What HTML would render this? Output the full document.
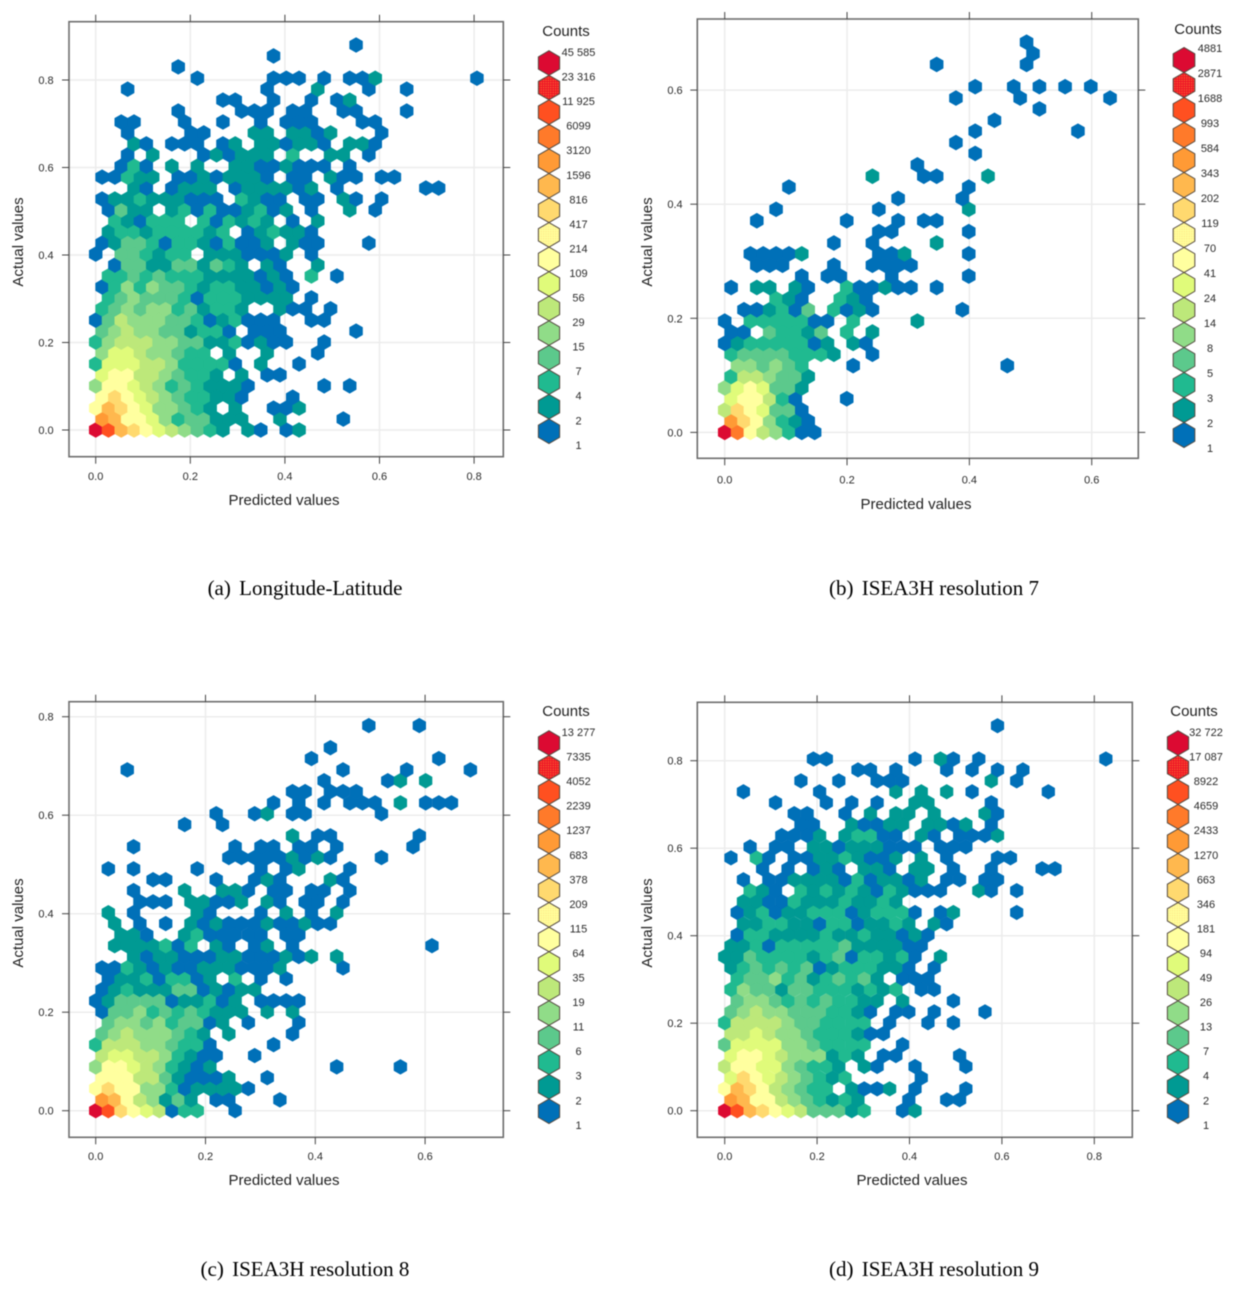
<!DOCTYPE html>
<html lang="en">
<head>
<meta charset="utf-8">
<title>Predicted vs actual hexbin plots</title>
<style>
html,body{margin:0;padding:0;background:#fff;}
#figure{display:block;width:1237px;height:1291px;filter:blur(0.45px);font-family:"Liberation Sans",sans-serif;}
.axis-title{font-size:15px;fill:#222;text-anchor:middle;}
.legend-title{font-size:15px;fill:#222;text-anchor:middle;}
.tick-label{font-size:11px;fill:#2a2a2a;text-anchor:middle;}
.legend-label{font-size:11px;fill:#2a2a2a;text-anchor:middle;}
.caption{font-family:"Liberation Serif",serif;font-size:21px;fill:#000;text-anchor:middle;}
</style>
</head>
<body>
<svg id="figure" xmlns="http://www.w3.org/2000/svg" width="1237" height="1291" viewBox="0 0 1237 1291">
  <defs>
    <pattern id="dots-red" width="2.4" height="2.4" patternUnits="userSpaceOnUse"><rect width="2.4" height="2.4" fill="#ee1428"/><circle cx="1.2" cy="1.2" r="0.55" fill="#ff9a30"/></pattern>
    <pattern id="dots-yellow" width="2.4" height="2.4" patternUnits="userSpaceOnUse"><rect width="2.4" height="2.4" fill="#ffff9c"/><circle cx="1.2" cy="1.2" r="0.6" fill="#ffdf80"/></pattern>
  </defs>
  <text class="axis-title" x="284" y="505">Predicted values</text>
  <text class="axis-title" transform="translate(23 242) rotate(-90)">Actual values</text>
  <text class="legend-title" x="566" y="36">Counts</text>
  <text class="caption" x="305" y="595">(a)<tspan dx="3"> Longitude-Latitude</tspan></text>

  <text class="axis-title" x="916" y="509">Predicted values</text>
  <text class="axis-title" transform="translate(652 242) rotate(-90)">Actual values</text>
  <text class="legend-title" x="1198" y="34">Counts</text>
  <text class="caption" x="934" y="595">(b)<tspan dx="3"> ISEA3H resolution 7</tspan></text>

  <text class="axis-title" x="284" y="1185">Predicted values</text>
  <text class="axis-title" transform="translate(23 923) rotate(-90)">Actual values</text>
  <text class="legend-title" x="566" y="716">Counts</text>
  <text class="caption" x="305" y="1276">(c)<tspan dx="3"> ISEA3H resolution 8</tspan></text>

  <text class="axis-title" x="912" y="1185">Predicted values</text>
  <text class="axis-title" transform="translate(652 923) rotate(-90)">Actual values</text>
  <text class="legend-title" x="1194" y="716">Counts</text>
  <text class="caption" x="934" y="1276">(d)<tspan dx="3"> ISEA3H resolution 9</tspan></text>
</svg>
<script>
// Panel (a) Longitude-Latitude
const panelAPredictedBins = [0,.027,.054,.081,.107,.134,.161,.188,.215,.242,.269,.295,.322,.349,.376,.403,.43,.456,.483,.51,.537,.564,.591,.618,.644,.671,.698,.725,.752,.779,.806];
const panelAActualBins = [0,.025,.05,.075,.101,.126,.151,.176,.201,.226,.251,.277,.302,.327,.352,.377,.402,.427,.453,.478,.503,.528,.553,.578,.603,.629,.654,.679,.704,.729,.754,.779,.804,.83,.855,.88];
const panelACountBands = [
[16,14,11,10,8,7,6,5,4,3,2,0,2,1,0,1,2],
[12,11,8,8,7,5,3,4,4,2,2,2,0,0,2,0,0,0,0,1],
[8,11,10,8,7,5,5,4,3,2,0,2,0,0,1,1,2],
[8,10,8,7,6,5,4,3,3,2,2,1,0,0,0,1],
[5,8,8,7,6,5,3,4,3,2,2,2,1,0,0,0,0,0,1,0,1],
[7,8,8,6,6,5,4,3,3,2,0,2,0,1,1],
[3,7,7,7,6,6,5,3,3,3,3,1,0,2,0,0,1],
[5,7,7,6,5,5,4,3,3,0,2,0,0,2,0,0,0,1],
[3,5,6,6,6,5,5,4,4,2,2,3,1,2,1,1,0,0,1],
[4,5,6,5,5,4,4,2,3,3,1,0,1,1,1,0,0,0,0,0,1],
[1,4,6,5,5,5,4,4,3,1,2,3,1,1,1,0,0,1,1],
[3,4,5,4,5,5,3,4,2,3,3,2,0,0,2,1,1,0,1],
[0,3,4,5,4,4,4,3,1,3,3,3,2,2,2,2,0,1],
[1,3,5,3,5,4,4,3,2,3,3,2,2,1,2,1],
[0,3,3,4,3,4,3,3,3,2,2,2,2,1,2,1,0,3,0,1],
[0,1,4,4,2,2,4,4,2,4,3,2,0,2,1,0,0,2],
[1,0,4,4,3,2,3,3,0,2,2,2,1,1,1,2,0,1],
[1,2,4,4,3,1,3,3,2,1,3,1,1,2,0,2,1,1,0,0,0,1],
[0,2,3,3,2,3,3,3,3,2,3,0,1,2,3,2,2,1],
[0,3,2,1,3,3,3,0,3,1,3,2,3,2,0,1,0,2],
[0,1,4,2,2,0,2,3,1,3,1,1,2,3,1,2,0,1,0,0,2,0,1],
[1,2,2,3,2,2,2,1,1,1,0,3,2,1,1,0,1,1,0,2,1,0,1],
[0,0,0,2,1,0,1,2,2,2,0,1,2,2,2,2,1,2,0,1,0,0,0,0,0,0,1,1],
[1,1,3,2,2,0,1,1,2,1,2,2,2,1,0,1,1,0,2,1,1,0,1,1],
[0,0,1,3,1,0,2,0,2,0,0,2,2,1,1,2,1,1,1,0,1],
[0,0,1,0,2,0,0,0,1,2,1,2,2,2,0,3,0,0,2,2,0,1],
[0,0,0,2,1,0,1,1,1,0,1,2,0,2,2,1,2,2,1,0,2,2,1],
[0,0,1,0,0,0,0,1,1,0,0,0,2,2,0,2,2,1,2,0,0,0,1],
[0,0,1,1,0,0,0,1,0,0,1,0,0,1,0,1,1,1,0,0,0,1,1],
[0,0,0,0,0,0,1,0,0,0,0,1,1,1,0,1,1,0,0,1,1,0,0,0,1],
[0,0,0,0,0,0,0,0,0,0,1,1,0,0,1,0,0,1,0,1,2],
[0,0,1,0,0,0,0,0,0,0,0,0,0,1,0,0,0,2,0,0,0,1,0,0,1],
[0,0,0,0,0,0,0,0,1,0,0,0,0,0,1,1,1,0,1,0,1,1,2,0,0,0,0,0,0,0,1],
[0,0,0,0,0,0,1],
[0,0,0,0,0,0,0,0,0,0,0,0,0,0,1],
[0,0,0,0,0,0,0,0,0,0,0,0,0,0,0,0,0,0,0,0,1]
];
const panelAXTicks = [0,0.2,0.4,0.6,0.8];
const panelAYTicks = [0,0.2,0.4,0.6,0.8];
const panelALegendLabels = ["45 585","23 316","11 925","6099","3120","1596","816","417","214","109","56","29","15","7","4","2","1"];

// Panel (b) ISEA3H resolution 7
const panelBPredictedBins = [0,.021,.042,.063,.084,.105,.126,.147,.168,.189,.21,.231,.252,.273,.294,.315,.336,.357,.378,.399,.42,.441,.462,.483,.504,.525,.546,.567,.588,.609,.63];
const panelBActualBins = [0,.02,.039,.059,.078,.098,.117,.137,.156,.176,.195,.215,.234,.254,.274,.293,.313,.332,.352,.371,.391,.41,.43,.449,.469,.489,.508,.528,.547,.567,.586,.606,.625,.645,.664,.684];
const panelBCountBands = [
[16,13,8,6,5,3,1,1],
[12,10,8,5,3,2,1],
[6,10,8,7,4,4,1],
[7,8,8,6,3,1,0,0,0,1],
[5,7,8,7,4,4,2],
[3,6,6,5,4,4,2],
[0,5,5,4,5,4,3,0,0,0,1,0,0,0,0,0,0,0,0,0,0,0,1],
[3,4,4,4,4,3,3,3,2,0,0,1],
[1,2,3,3,3,3,3,1,2,0,2,1],
[1,1,0,4,3,3,2,4,0,3,0,2],
[1,0,3,3,3,3,3,1,1,0,3,0,0,0,0,2],
[0,1,1,2,3,1,4,0,3,1,2,1,0,0,0,0,0,0,1],
[0,0,0,0,3,2,1,0,0,3,2,1],
[1,0,2,2,0,2,1,0,0,3,1,1,2,1,1,0,1],
[0,0,0,0,0,0,1,0,1,1,0,0,0,1,0,0,0,0,0,1],
[0,0,1,1,1,0,0,0,1,0,0,1,1,1,1],
[0,0,1,1,1,1,2,0,0,0,0,0,1,1,2,0,0,0,0,1],
[0,0,0,0,0,0,0,0,1,0,0,1,0,0,0,0,2],
[0,0,0,0,0,0,0,0,0,0,0,0,1,1,0,0,0,0,0,1],
[0,0,1,0,0,0,0,0,0,1,0,0,0,1,0,1,1],
[0,0,0,0,1,0,0,0,0,0,0,0,1,0,0,0,0,0,0,2],
[0,0,0,0,0,0,0,0,0,0,0,0,0,1,0,0,0,0,1],
[0,0,0,0,0,1,0,0,0,0,0,0,0,0,0,0,0,0,0,1],
[0,0,0,0,0,0,0,0,0,0,0,2,0,0,0,1,1,0,0,0,2],
[0,0,0,0,0,0,0,0,0,0,0,0,0,0,0,1],
[0,0,0,0,0,0,0,0,0,0,0,0,0,0,0,0,0,0,0,1],
[0,0,0,0,0,0,0,0,0,0,0,0,0,0,0,0,0,0,1],
[0,0,0,0,0,0,0,0,0,0,0,0,0,0,0,0,0,0,0,1,0,0,0,0,0,0,0,1],
[0,0,0,0,0,0,0,0,0,0,0,0,0,0,0,0,0,0,0,0,0,1],
[0,0,0,0,0,0,0,0,0,0,0,0,0,0,0,0,0,0,0,0,0,0,0,0,1],
[0,0,0,0,0,0,0,0,0,0,0,0,0,0,0,0,0,0,1,0,0,0,0,1,0,0,0,0,0,0,1],
[0,0,0,0,0,0,0,0,0,0,0,0,0,0,0,0,0,0,0,1,0,0,1,0,1,0,1,0,1],
[],
[0,0,0,0,0,0,0,0,0,0,0,0,0,0,0,0,1,0,0,0,0,0,0,1],
[0,0,0,0,0,0,0,0,0,0,0,0,0,0,0,0,0,0,0,0,0,0,0,0,1],
[0,0,0,0,0,0,0,0,0,0,0,0,0,0,0,0,0,0,0,0,0,0,0,1]
];
const panelBXTicks = [0,0.2,0.4,0.6];
const panelBYTicks = [0,0.2,0.4,0.6];
const panelBLegendLabels = ["4881","2871","1688","993","584","343","202","119","70","41","24","14","8","5","3","2","1"];

// Panel (c) ISEA3H resolution 8
const panelCPredictedBins = [0,.023,.046,.069,.093,.116,.139,.162,.185,.208,.231,.254,.278,.301,.324,.347,.37,.393,.416,.439,.463,.486,.509,.532,.555,.578,.601,.625,.648,.671,.694];
const panelCActualBins = [0,.022,.045,.067,.089,.112,.134,.156,.179,.201,.223,.246,.268,.29,.313,.335,.357,.38,.402,.424,.447,.469,.491,.514,.536,.558,.581,.603,.625,.648,.67,.692,.715,.737,.76,.782];
const panelCCountBands = [
[16,14,10,8,7,6,1,3,3,0,0,1],
[12,11,8,6,5,2,4,2,0,1,1,0,0,0,1],
[8,10,8,8,5,5,3,1,2,2,2,2,1],
[8,8,8,6,6,4,2,1,1,1,2,0,0,1],
[5,8,8,7,6,5,3,2,1,2,0,0,0,0,0,0,0,0,0,1,0,0,0,0,1],
[6,7,7,6,6,5,3,2,1,1,0,0,1],
[3,6,6,6,5,5,4,3,3,1,0,0,0,0,1],
[4,5,6,5,5,5,4,3,2,0,2,0,0,0,0,1],
[0,4,5,5,4,5,3,4,4,1,2,0,1,0,0,0,1],
[1,4,4,5,3,4,3,4,3,2,2,2,0,2,0,2],
[1,2,4,4,4,4,1,2,2,3,1,2,0,1,1,1,1],
[1,2,3,2,2,2,4,4,1,2,1,2,2],
[0,1,2,2,3,1,3,3,1,2,0,3,0,1,0,1],
[1,1,3,2,1,2,1,1,2,2,2,1,1,1,2,0,0,0,0,1],
[0,0,0,2,1,2,2,1,1,1,2,2,1,1,1,2,1,2,0,2],
[0,2,2,2,2,3,1,3,0,2,1,0,1,2,0,1,0,0,0,0,0,0,0,0,0,0,1],
[0,0,2,2,1,0,0,2,3,1,1,1,1,1,0,1,1],
[0,2,0,1,0,1,0,2,1,2,1,1,1,2,1,1,2,1,1],
[0,2,0,1,0,0,0,0,2,1,0,0,0,1,0,2,0,1,0,2],
[0,0,0,1,1,1,0,2,2,1,1,2,0,2,1,0,1,1,0,1],
[0,0,0,1,0,0,0,2,0,0,2,2,1,0,1,1,0,1,1,0,1],
[0,0,0,0,1,1,0,0,0,1,0,0,1,2,1,0,0,0,2,1],
[0,1,0,1,0,0,0,0,1,0,0,0,0,1,0,1,2,0,0,0,1],
[0,0,0,0,0,0,0,0,0,0,1,1,1,1,1,2,1,2,1,0,0,0,1],
[0,0,0,1,0,0,0,0,0,0,0,1,0,1,1,0,1,1,0,1,0,0,0,0,0,1],
[0,0,0,0,0,0,0,0,0,0,0,0,0,0,0,2,0,1,1,0,0,0,0,0,0,1],
[0,0,0,0,0,0,0,1,0,0,1],
[0,0,0,0,0,0,0,0,0,1,0,0,1,2,0,1,1,0,0,0,0,0,1],
[0,0,0,0,0,0,0,0,0,0,0,0,0,0,1,0,1,0,1,0,1,1,1,0,2,0,1,1,1],
[0,0,0,0,0,0,0,0,0,0,0,0,0,0,0,1,1,0,1,1,1],
[0,0,0,0,0,0,0,0,0,0,0,0,0,0,0,0,0,0,1,0,0,0,0,1,2,0,2],
[0,0,1,0,0,0,0,0,0,0,0,0,0,0,0,0,0,0,0,1,0,0,0,0,1,0,0,0,0,1],
[0,0,0,0,0,0,0,0,0,0,0,0,0,0,0,0,0,1,0,0,0,0,0,0,0,0,0,1],
[0,0,0,0,0,0,0,0,0,0,0,0,0,0,0,0,0,0,1],
[],
[0,0,0,0,0,0,0,0,0,0,0,0,0,0,0,0,0,0,0,0,0,1,0,0,0,1]
];
const panelCXTicks = [0,0.2,0.4,0.6];
const panelCYTicks = [0,0.2,0.4,0.6,0.8];
const panelCLegendLabels = ["13 277","7335","4052","2239","1237","683","378","209","115","64","35","19","11","6","3","2","1"];

// Panel (d) ISEA3H resolution 9
const panelDPredictedBins = [0,.027,.055,.082,.11,.137,.165,.192,.22,.247,.275,.302,.33,.357,.385,.412,.44,.467,.495,.522,.55,.577,.605,.632,.66,.687,.715,.742,.77,.797,.825];
const panelDActualBins = [0,.025,.05,.075,.101,.126,.151,.176,.201,.226,.251,.277,.302,.327,.352,.377,.402,.427,.453,.478,.503,.528,.553,.578,.603,.629,.654,.679,.704,.729,.754,.779,.804,.83,.855,.88];
const panelDCountBands = [
[16,14,11,10,8,7,6,4,4,4,2,3,0,0,1,2],
[12,11,8,8,6,5,4,3,2,3,2,0,0,0,1,0,0,1,1],
[8,11,10,8,6,5,4,3,3,0,2,1,1,2,0,1,0,0,0,1],
[7,10,8,7,6,5,4,3,2,3,0,0,0,0,0,1],
[6,8,8,7,7,5,4,3,3,2,0,2,1,0,0,1,0,0,0,1],
[7,8,8,7,6,5,5,5,2,3,2,0,1,1,0,0,0,0,1],
[4,7,7,7,7,5,5,4,3,3,3,3,0,0,1],
[6,6,7,6,5,5,4,3,3,3,2,1,1],
[3,6,6,6,6,5,4,4,3,3,3,3,0,1,0,0,1,0,1],
[4,5,6,5,5,4,4,4,3,3,2,1,0,1,1,0,1,0,0,0,1],
[0,4,5,5,4,3,4,3,4,3,3,2,2,0,2,0,0,0,1],
[3,5,4,4,2,4,4,3,3,3,2,3,2,3,0,1,1],
[0,3,4,4,5,3,4,2,3,4,3,4,2,0,1,1,1],
[2,3,4,3,4,3,4,1,2,3,3,3,2,2,1,0,1],
[2,2,4,3,3,3,3,2,3,4,1,3,3,2,3,1,0,2],
[2,2,3,1,3,3,3,3,3,4,2,2,2,2,1,1],
[0,1,3,3,2,2,2,2,3,2,2,3,2,2,1,2,1],
[0,2,2,3,3,2,2,1,3,3,1,2,2,3,2,0,2,1],
[0,1,2,3,1,2,2,3,3,3,1,2,3,3,3,1,0,1,2,0,0,0,0,1],
[0,2,2,1,1,3,2,2,2,3,2,2,3,2],
[0,0,3,2,1,0,3,2,3,2,3,2,1,3,2,1,1,1,0,0,2,1,0,1],
[0,1,0,1,1,2,2,2,2,1,3,1,2,2,1,2,0,1,1,0,1,1],
[0,0,0,1,0,1,0,1,2,1,0,2,2,1,0,2,2,0,1,0,0,1,0,0,0,1,1],
[1,0,3,1,0,1,1,2,2,3,2,1,1,2,0,2,0,1,0,0,0,1,1],
[0,0,1,0,1,1,0,2,2,1,2,2,2,1,1,1,0,1,1,1],
[0,0,0,0,1,1,1,2,0,2,3,3,1,1,0,2,1,0,1,1,1,2],
[0,0,0,0,0,0,1,1,0,0,2,1,1,2,2,0,2,2,1,2,0,1],
[0,0,0,0,0,1,1,0,0,1,0,2,0,2,2,0,2,0,0,0,2,1],
[0,0,0,0,1,0,0,0,1,0,1,0,1,0,0,2,2,0,0,0,0,1],
[0,1,0,0,0,0,0,1,0,0,0,0,0,2,0,2,0,2,0,1,0,0,0,0,0,1],
[0,0,0,0,0,0,1,0,0,1,0,0,1,1,1,0,0,0,0,0,0,2,0,1],
[0,0,0,0,0,0,0,0,0,0,1,1,0,1,0,0,0,1,0,1,0,1,0,1],
[0,0,0,0,0,0,0,1,1,0,0,0,0,0,0,1,0,2,1,0,1,0,0,0,0,0,0,0,0,0,1],
[],
[],
[0,0,0,0,0,0,0,0,0,0,0,0,0,0,0,0,0,0,0,0,0,1]
];
const panelDXTicks = [0,0.2,0.4,0.6,0.8];
const panelDYTicks = [0,0.2,0.4,0.6,0.8];
const panelDLegendLabels = ["32 722","17 087","8922","4659","2433","1270","663","346","181","94","49","26","13","7","4","2","1"];

// Colour of count band 1 (lowest) to band 16 (highest)
const bandColors = ["#0070b8","#009a93","#20ba90","#5cc98c","#90dc88","#bde87a","#e0fb7a","#ffff9f","url(#dots-yellow)","#ffd96f","#ffb84e","#ff9a35","#ff7a2a","#ff5020","url(#dots-red)","#dc0a32"];

const panels = [
  {id:"a",predicted:panelAPredictedBins,actual:panelAActualBins,bands:panelACountBands,xTicks:panelAXTicks,yTicks:panelAYTicks,legend:panelALegendLabels,
   left:69,top:21.7,right:503.3,bottom:456.7,x0:95.7,kx:473,y0:430,ky:437.5,xLabelY:480,yLabelX:46,legendHexX:549,legendHexTop:63,legendStep:24.55,legendLabelX:578.5,legendLabelTop:52},
  {id:"b",predicted:panelBPredictedBins,actual:panelBActualBins,bands:panelBCountBands,xTicks:panelBXTicks,yTicks:panelBYTicks,legend:panelBLegendLabels,
   left:697.3,top:19,right:1138.3,bottom:458.3,x0:724.7,kx:611.7,y0:432.4,ky:570.5,xLabelY:483.5,yLabelX:675,legendHexX:1184,legendHexTop:60,legendStep:25,legendLabelX:1210,legendLabelTop:48},
  {id:"c",predicted:panelCPredictedBins,actual:panelCActualBins,bands:panelCCountBands,xTicks:panelCXTicks,yTicks:panelCYTicks,legend:panelCLegendLabels,
   left:69,top:701.7,right:503.3,bottom:1137.3,x0:95.7,kx:549,y0:1110.7,ky:492.5,xLabelY:1160,yLabelX:46,legendHexX:549,legendHexTop:743,legendStep:24.55,legendLabelX:578.5,legendLabelTop:732},
  {id:"d",predicted:panelDPredictedBins,actual:panelDActualBins,bands:panelDCountBands,xTicks:panelDXTicks,yTicks:panelDYTicks,legend:panelDLegendLabels,
   left:697.3,top:702.3,right:1132.3,bottom:1137.3,x0:724.7,kx:462,y0:1110.7,ky:437.5,xLabelY:1160,yLabelX:675,legendHexX:1178,legendHexTop:743,legendStep:24.55,legendLabelX:1206,legendLabelTop:732}
];

const svg = document.getElementById("figure");
const NS = "http://www.w3.org/2000/svg";

function make(tag, attrs, parent) {
  const el = document.createElementNS(NS, tag);
  for (const key in attrs) el.setAttribute(key, attrs[key]);
  parent.appendChild(el);
  return el;
}
function hexPoints(cx, cy, radius) {
  const pts = [];
  for (let k = 0; k < 6; k++) {
    const angle = Math.PI / 2 + k * Math.PI / 3;
    pts.push((cx + radius * Math.cos(angle)).toFixed(2) + "," + (cy - radius * Math.sin(angle)).toFixed(2));
  }
  return pts.join(" ");
}
function bandColor(band) {
  return bandColors[Math.max(1, Math.min(16, band)) - 1];
}

panels.forEach(function (p) {
  const xScale = function (v) { return p.x0 + v * p.kx; };
  const yScale = function (v) { return p.y0 - v * p.ky; };

  const group = make("g", {}, svg);
  
  

  // grid lines
  p.xTicks.forEach(function (t) {
    const line = make("line", {x1:xScale(t),x2:xScale(t),y1:p.top,y2:p.bottom,stroke:"#ececec","stroke-width":1.5}, group);
    
    
  });
  p.yTicks.forEach(function (t) {
    const line = make("line", {x1:p.left,x2:p.right,y1:yScale(t),y2:yScale(t),stroke:"#ececec","stroke-width":1.5}, group);
    
    
  });

  // hexagonal bins
  const half = (xScale(p.predicted[1]) - xScale(p.predicted[0])) / 2;
  const radius = 2 * half / Math.sqrt(3);
  p.bands.forEach(function (row, r) {
    row.forEach(function (band, c) {
      if (!band) return;
      const cx = xScale(p.predicted[c]) + (r % 2 ? half : 0);
      const cy = yScale(p.actual[r]);
      const fill = bandColor(band);
      const hex = make("polygon", {points:hexPoints(cx, cy, radius),fill:fill}, group);
      if (fill.indexOf("url") !== 0) {
        hex.setAttribute("stroke", fill);
        hex.setAttribute("stroke-width", "0.7");
        hex.setAttribute("stroke-linejoin", "round");
      }
      
      
    });
  });

  // frame
  const frame = make("rect", {x:p.left,y:p.top,width:p.right-p.left,height:p.bottom-p.top,fill:"none",stroke:"#6e6e6e","stroke-width":1.6}, group);
  
  

  // x ticks and labels
  p.xTicks.forEach(function (t) {
    const x = xScale(t);
    const topTick = make("line", {x1:x,x2:x,y1:p.top-7,y2:p.top,stroke:"#444","stroke-width":1}, group);
    
    
    const bottomTick = make("line", {x1:x,x2:x,y1:p.bottom,y2:p.bottom+7,stroke:"#444","stroke-width":1}, group);
    
    
    const label = make("text", {"class":"tick-label",x:x,y:p.xLabelY}, group);
    label.textContent = t.toFixed(1);
    
    
  });

  // y ticks and labels
  p.yTicks.forEach(function (t) {
    const y = yScale(t);
    const leftTick = make("line", {x1:p.left-7,x2:p.left,y1:y,y2:y,stroke:"#444","stroke-width":1}, group);
    
    
    const rightTick = make("line", {x1:p.right,x2:p.right+7,y1:y,y2:y,stroke:"#444","stroke-width":1}, group);
    
    
    const label = make("text", {"class":"tick-label",x:p.yLabelX,y:y+4}, group);
    label.textContent = t.toFixed(1);
    
    
  });

  // legend: 16 swatches between 17 boundary labels
  const legendRadius = p.legendStep / 2;
  for (let i = 0; i < 16; i++) {
    const swatch = make("polygon", {points:hexPoints(p.legendHexX, p.legendHexTop + i * p.legendStep, legendRadius),fill:bandColor(16 - i),stroke:"#544a40","stroke-width":1}, group);
    
    
  }
  p.legend.forEach(function (text, i) {
    const label = make("text", {"class":"legend-label",x:p.legendLabelX,y:p.legendLabelTop + i * p.legendStep + 4}, group);
    label.textContent = text;
    
    
  });
});
</script>
</body>
</html>
